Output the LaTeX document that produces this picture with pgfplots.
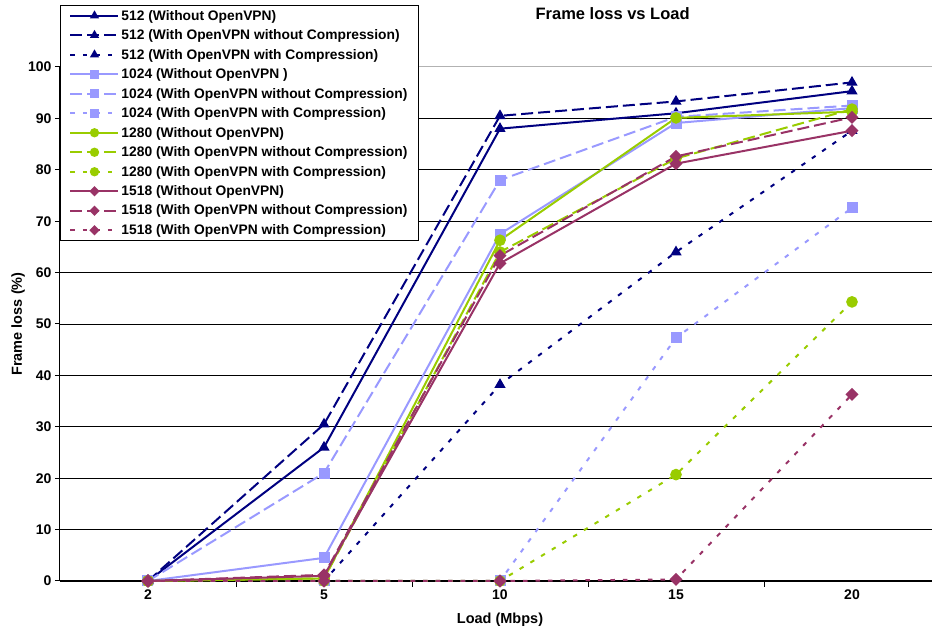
\documentclass[border=0pt]{standalone}
\usepackage{fontspec}
\setmainfont{Liberation Sans}
\usepackage{pgfplots}
\pgfplotsset{compat=1.18}
\definecolor{cnavy}{HTML}{000080}
\definecolor{cblue}{HTML}{9999FF}
\definecolor{cgreen}{HTML}{99CC00}
\definecolor{cmag}{HTML}{993366}
\tikzset{
  dsh/.style={dash pattern=on 12pt off 5pt},
  dot/.style={dash pattern=on 4.5pt off 8pt},
}
\begin{document}
\begin{tikzpicture}
\begin{axis}[
  name=ax,
  scale only axis,
  width=880pt, height=514pt,
  xmin=-0.5, xmax=4.5,
  ymin=0, ymax=100,
  clip=false,
  axis x line*=bottom,
  axis y line*=left,
  axis line style={black, line width=1pt},
  xtick={0,1,2,3,4},
  xticklabels={2,5,10,15,20},
  minor xtick={0.5,1.5,2.5,3.5},
  major x tick style={draw=none},
  minor x tick style={black, line width=1pt},
  minor tick length=6pt,
  major tick length=5pt,
  tick align=outside,
  ytick={0,10,...,90},
  extra y ticks={100},
  extra y tick style={grid style={gray!60, line width=1pt}},
  ymajorgrids=true,
  grid style={black, line width=0.9pt},
  ytick style={black, line width=1pt},
  /pgf/number format/assume math mode=true,
  tick label style={font=\bfseries\fontsize{14}{16}\selectfont},
  xlabel={Load (Mbps)},
  ylabel={Frame loss (\%)},
  label style={font=\bfseries\fontsize{14.5}{17}\selectfont},
  xlabel style={at={(axis description cs:0.5,-0.0759)}, anchor=center},
  ylabel style={at={(axis description cs:-0.0477,0.5)}, anchor=center},
  title={Frame loss vs Load},
  title style={font=\bfseries\fontsize{16.5}{19}\selectfont, at={(axis description cs:0.628,1.0914)}, anchor=center},
  legend style={
    at={(axis description cs:0,1.1206)}, anchor=north west,
    draw=black, line width=1pt, fill=white,
    font=\bfseries\fontsize{13.8}{16}\selectfont,
    inner xsep=9pt, inner ysep=2.5pt,
    row sep=4pt,
    cells={anchor=west},
  },
  legend cell align=left,
  legend image code/.code={\draw[mark repeat=2,mark phase=2,#1] plot coordinates {(0pt,0pt)(24pt,0pt)(48pt,0pt)};},
  legend image post style={/tikz/every mark/.append style={scale=0.75}},
  every axis plot/.append style={line width=2pt},
]
% 512
\addplot[cnavy, mark=triangle*, mark size=4.5pt, mark options={solid}]
  coordinates {(0,0)(1,26)(2,88)(3,91)(4,95.3)};
\addlegendentry{512 (Without OpenVPN)}
\addplot[cnavy, dsh, mark=triangle*, mark size=4.5pt, mark options={solid}]
  coordinates {(0,0)(1,30.5)(2,90.5)(3,93.3)(4,97)};
\addlegendentry{512 (With OpenVPN without Compression)}
\addplot[cnavy, dot, mark=triangle*, mark size=4.5pt, mark options={solid}]
  coordinates {(0,0)(1,0)(2,38.2)(3,64)(4,87.6)};
\addlegendentry{512 (With OpenVPN with Compression)}
% 1024
\addplot[cblue, mark=square*, mark size=4.5pt, mark options={solid}]
  coordinates {(0,0)(1,4.5)(2,67.5)(3,89.1)(4,92)};
\addlegendentry{1024 (Without OpenVPN )}
\addplot[cblue, dsh, mark=square*, mark size=4.5pt, mark options={solid}]
  coordinates {(0,0)(1,21)(2,78)(3,90.3)(4,92.5)};
\addlegendentry{1024 (With OpenVPN without Compression)}
\addplot[cblue, dot, mark=square*, mark size=4.5pt, mark options={solid}]
  coordinates {(0,0)(1,0)(2,0)(3,47.3)(4,72.6)};
\addlegendentry{1024 (With OpenVPN with Compression)}
% 1280
\addplot[cgreen, mark=*, mark size=4.8pt, mark options={solid}]
  coordinates {(0,0)(1,0.5)(2,66.3)(3,90.1)(4,91.3)};
\addlegendentry{1280 (Without OpenVPN)}
\addplot[cgreen, dsh, mark=*, mark size=4.8pt, mark options={solid}]
  coordinates {(0,0)(1,0.5)(2,64)(3,82.2)(4,91.8)};
\addlegendentry{1280 (With OpenVPN without Compression)}
\addplot[cgreen, dot, mark=*, mark size=4.8pt, mark options={solid}]
  coordinates {(0,0)(1,0)(2,0)(3,20.7)(4,54.3)};
\addlegendentry{1280 (With OpenVPN with Compression)}
% 1518
\addplot[cmag, mark=square*, mark size=3.6pt, mark options={solid, rotate=45}]
  coordinates {(0,0)(1,1)(2,61.8)(3,81.2)(4,87.6)};
\addlegendentry{1518 (Without OpenVPN)}
\addplot[cmag, dsh, mark=square*, mark size=3.6pt, mark options={solid, rotate=45}]
  coordinates {(0,0)(1,1.2)(2,63.3)(3,82.6)(4,90.2)};
\addlegendentry{1518 (With OpenVPN without Compression)}
\addplot[cmag, dot, mark=square*, mark size=3.6pt, mark options={solid, rotate=45}]
  coordinates {(0,0)(1,0)(2,0)(3,0.3)(4,36.3)};
\addlegendentry{1518 (With OpenVPN with Compression)}
\end{axis}
\pgfresetboundingbox
\useasboundingbox ([xshift=-60pt,yshift=-53pt]ax.south west) rectangle ([xshift=-8pt,yshift=67pt]ax.north east);
\end{tikzpicture}
\end{document}
